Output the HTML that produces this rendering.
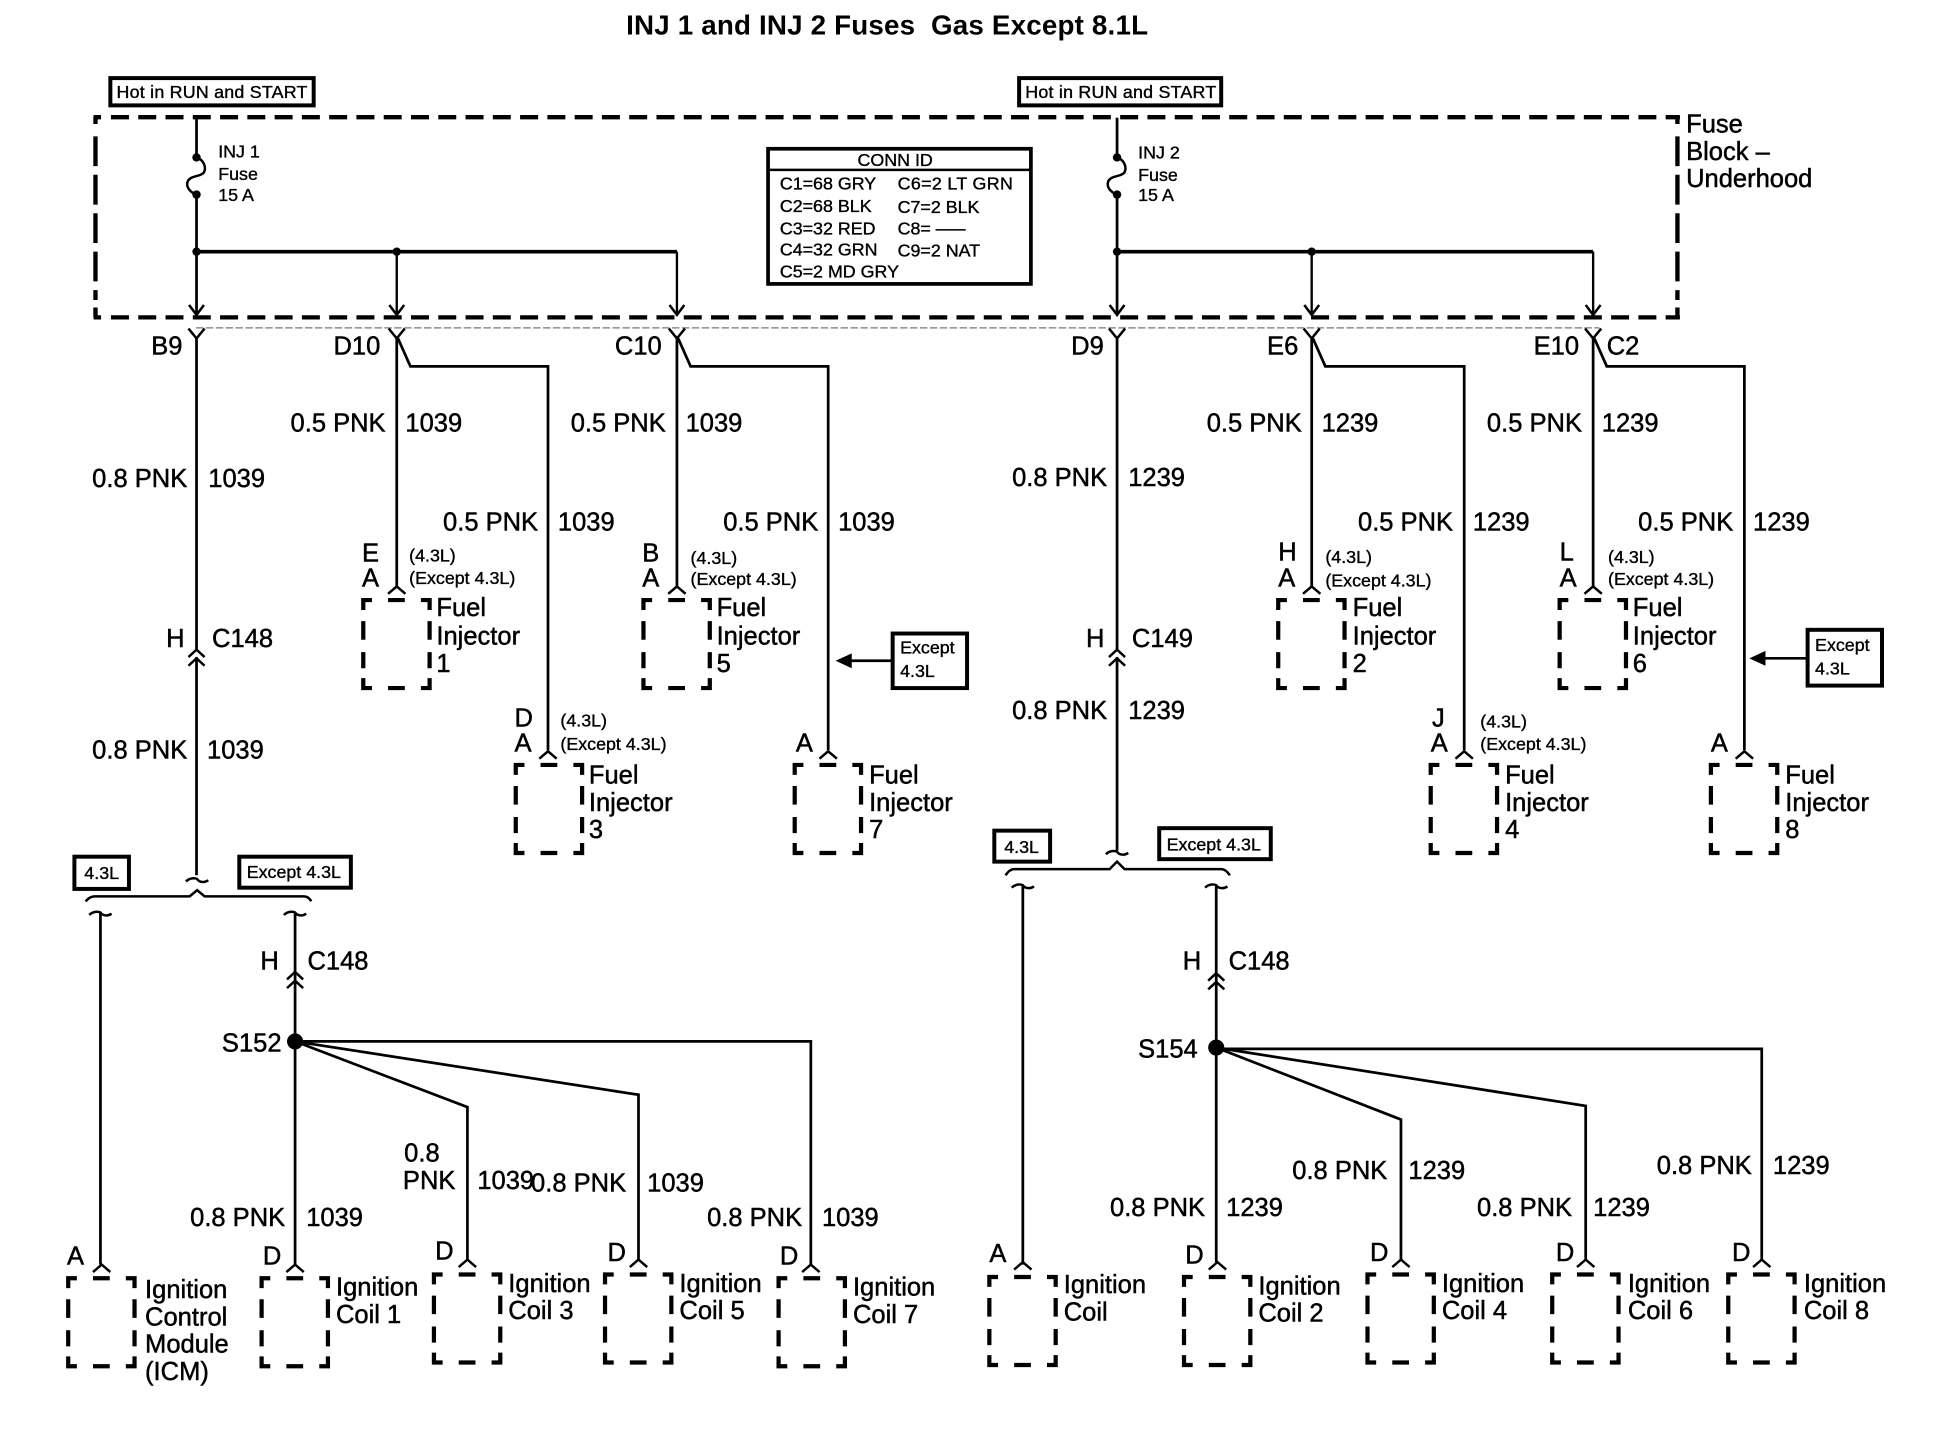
<!DOCTYPE html>
<html><head><meta charset="utf-8"><title>INJ 1 and INJ 2 Fuses</title>
<style>
html,body{margin:0;padding:0;background:#fff}
svg{display:block;width:1944px;height:1440px}
text{font-family:"Liberation Sans",Arial,sans-serif;fill:#000;stroke:#000;stroke-width:.38px;white-space:pre}
.m{font-size:20.6px}
.s{font-size:14.4px;stroke-width:.3px}
.e{text-anchor:end}
.t{font-size:22.4px;font-weight:bold;stroke-width:0}
.w{fill:none;stroke:#000;stroke-width:2.2}
.h{fill:none;stroke:#000;stroke-width:2}
.b{fill:#fff;stroke:#000;stroke-width:3.2}
</style></head><body>
<svg xmlns="http://www.w3.org/2000/svg" xmlns:xlink="http://www.w3.org/1999/xlink" viewBox="0 0 1568 1161.5" width="1944" height="1440">
<defs>
<path id="bx" d="M0,8V0H7M0,17V32M0,42V55M0,63V71H7M20,71H33.500M20,0H33.500M46.500,0H53.500V8M53.500,17V32M53.500,42V55M53.500,63V71H46.500" fill="none" stroke="#000" stroke-width="3.4"/>
<path id="dn" d="M-6,-8L0,0L6,-8" class="h"/>
<path id="y" d="M-6.5,0L0,8L6.5,0" class="h"/>
<path id="up" d="M-7,6L0,0L7,6" class="h"/>
<path id="ch" d="M-6.5,6L0,0L6.5,6M-6.5,13L0,7L6.5,13" class="h"/>
<path id="fu" d="M0,0C6,2 8,8 6,12C3,16 -4,14 -7,19C-9,24 -5,28 0,30" class="h"/>
<path id="ti" d="M-9,2C-6,-1 -2,-1 0,0C2,3 6,3 9,1" class="h"/>
</defs>
<text class="t" x="505" y="28" textLength="421" lengthAdjust="spacing" xml:space="preserve">INJ 1 and INJ 2 Fuses  Gas Except 8.1L</text>

<rect class="b" x="89" y="63" width="164" height="22"/><text class="s" x="94" y="79" textLength="154">Hot in RUN and START</text>
<rect class="b" x="822" y="63" width="163" height="22"/><text class="s" x="827" y="79" textLength="154">Hot in RUN and START</text>

<g fill="none" stroke="#000" stroke-width="3.5">
<path d="M75.500,94.500H1355" stroke-dasharray="6 8 14.500 7.500 14.500 7.500 14.500 7.500 14.500 7.500 14.500 7.500 14.500 7.500 14.500 7.500 14.500 7.500 14.500 7.500 14.500 7.500 14.500 7.500 14.500 7.500 14.500 7.500 14.500 7.500 14.500 7.500 14.500 7.500 14.500 7.500 14.500 7.500 14.500 7.500 14.500 7.500 14.500 7.500 14.500 7.500 14.500 7.500 14.500 7.500 14.500 7.500 14.500 7.500 14.500 7.500 14.500 7.500 14.500 7.500 14.500 7.500 14.500 7.500 14.500 7.500 14.500 7.500 14.500 7.500 14.500 7.500 14.500 7.500 14.500 7.500 14.500 7.500 14.500 7.500 14.500 7.500 14.500 7.500 14.500 7.500 14.500 7.500 14.500 7.500 14.500 7.500 14.500 7.500 14.500 7.500 14.500 7.500 14.500 7.500 14.500 7.500 14.500 7.500 14.500 7.500 14.500 7.500 14.500 7.500 14.500 7.500 14.500 7.500 14.500 7.500 14.500 7.500 14.500 7.500"/>
<path d="M75.500,256H1355" stroke-dasharray="6 8 14.500 7.500 14.500 7.500 14.500 7.500 14.500 7.500 14.500 7.500 14.500 7.500 14.500 7.500 14.500 7.500 14.500 7.500 14.500 7.500 14.500 7.500 14.500 7.500 14.500 7.500 14.500 7.500 14.500 7.500 14.500 7.500 14.500 7.500 14.500 7.500 14.500 7.500 14.500 7.500 14.500 7.500 14.500 7.500 14.500 7.500 14.500 7.500 14.500 7.500 14.500 7.500 14.500 7.500 14.500 7.500 14.500 7.500 14.500 7.500 14.500 7.500 14.500 7.500 14.500 7.500 14.500 7.500 14.500 7.500 14.500 7.500 14.500 7.500 14.500 7.500 14.500 7.500 14.500 7.500 14.500 7.500 14.500 7.500 14.500 7.500 14.500 7.500 14.500 7.500 14.500 7.500 14.500 7.500 14.500 7.500 14.500 7.500 14.500 7.500 14.500 7.500 14.500 7.500 14.500 7.500 14.500 7.500 14.500 7.500 14.500 7.500 14.500 7.500 14.500 7.500 14.500 7.500 14.500 7.500"/>
<path d="M77,94V256" stroke-dasharray="6 10 24 7 24 7 24 7 24 7 8"/>
<path d="M1353,94V256" stroke-dasharray="6 10 24 7 24 7 24 7 24 7 8"/>
</g>
<path d="M158,264.500H1290" fill="none" stroke="#777" stroke-width="1" stroke-dasharray="6 2"/>

<text class="m" x="1360" y="107">Fuse</text><text class="m" x="1360" y="129">Block –</text><text class="m" x="1360" y="151">Underhood</text>

<!-- Left fuse group -->
<path class="w" d="M158.500,95V126M158.500,157V254"/>
<path d="M320,203V254M546,203V254" fill="none" stroke="#000" stroke-width="1.9"/>
<path d="M158.500,203H546" fill="none" stroke="#000" stroke-width="3"/>
<use xlink:href="#fu" x="158.500" y="127"/>
<circle cx="158.500" cy="127" r="3.400"/><circle cx="158.500" cy="157" r="3.400"/><circle cx="158.500" cy="203" r="3.400"/><circle cx="320" cy="203" r="3.400"/>
<use xlink:href="#dn" x="158.500" y="254"/><use xlink:href="#dn" x="320" y="254"/><use xlink:href="#dn" x="546" y="254"/>
<text class="s" x="176" y="127">INJ 1</text><text class="s" x="176" y="145">Fuse</text><text class="s" x="176" y="162">15 A</text>

<!-- Right fuse group -->
<path class="w" d="M901,95V126M901,157V254"/>
<path d="M1058,203V254M1285,203V254" fill="none" stroke="#000" stroke-width="1.9"/>
<path d="M901,203H1285" fill="none" stroke="#000" stroke-width="3"/>
<use xlink:href="#fu" x="901" y="127"/>
<circle cx="901" cy="127" r="3.400"/><circle cx="901" cy="157" r="3.400"/><circle cx="901" cy="203" r="3.400"/><circle cx="1058" cy="203" r="3.400"/>
<use xlink:href="#dn" x="901" y="254"/><use xlink:href="#dn" x="1058" y="254"/><use xlink:href="#dn" x="1285" y="254"/>
<text class="s" x="918" y="128">INJ 2</text><text class="s" x="918" y="146">Fuse</text><text class="s" x="918" y="162">15 A</text>

<!-- CONN ID -->
<rect x="619.500" y="120" width="212" height="109" fill="#fff" stroke="#000" stroke-width="3"/>
<path d="M619,137H832" stroke="#000" stroke-width="2"/>
<text class="s" x="722" y="134" text-anchor="middle">CONN ID</text>
<text class="s" x="629" y="153">C1=68 GRY</text><text class="s" x="629" y="171">C2=68 BLK</text><text class="s" x="629" y="189">C3=32 RED</text><text class="s" x="629" y="206">C4=32 GRN</text><text class="s" x="629" y="224">C5=2 MD GRY</text>
<text class="s" x="724" y="153" textLength="93">C6=2 LT GRN</text><text class="s" x="724" y="172">C7=2 BLK</text><text class="s" x="724" y="189">C8= –––</text><text class="s" x="724" y="207">C9=2 NAT</text>

<!-- Y connectors -->
<use xlink:href="#y" x="158.500" y="265"/><use xlink:href="#y" x="320" y="265"/><use xlink:href="#y" x="546" y="265"/><use xlink:href="#y" x="901" y="265"/><use xlink:href="#y" x="1058" y="265"/><use xlink:href="#y" x="1285" y="265"/>
<text class="m" x="122" y="286">B9</text><text class="m" x="269" y="286">D10</text><text class="m" x="496" y="286">C10</text><text class="m" x="864" y="286">D9</text><text class="m" x="1022" y="286">E6</text><text class="m" x="1237" y="286">E10</text><text class="m" x="1296" y="286">C2</text>

<!-- Upper wires -->
<path class="w" d="M158.500,273V524M158.500,530V706M320,273V473M546,273V473M901,273V524M901,530V686M1058,273V473M1285,273V473"/>
<path class="w" d="M321,273L331,295.500H442V605M547,273L557,295.500H668V605M1059,273L1069,295.500H1181V605M1286,273L1296,295.500H1407V605"/>
<use xlink:href="#ch" x="158.500" y="524"/><use xlink:href="#ch" x="901" y="524"/>
<use xlink:href="#up" x="320" y="473"/><use xlink:href="#up" x="546" y="473"/><use xlink:href="#up" x="442" y="606"/><use xlink:href="#up" x="668" y="606"/><use xlink:href="#up" x="1058" y="473"/><use xlink:href="#up" x="1285" y="473"/><use xlink:href="#up" x="1181" y="606"/><use xlink:href="#up" x="1407" y="606"/>

<!-- upper wire labels -->
<text class="m e" x="151" y="393">0.8 PNK</text><text class="m" x="168" y="393">1039</text>
<text class="m e" x="311" y="348">0.5 PNK</text><text class="m" x="327" y="348">1039</text>
<text class="m e" x="537" y="348">0.5 PNK</text><text class="m" x="553" y="348">1039</text>
<text class="m e" x="434" y="428">0.5 PNK</text><text class="m" x="450" y="428">1039</text>
<text class="m e" x="660" y="428">0.5 PNK</text><text class="m" x="676" y="428">1039</text>
<text class="m e" x="151" y="612">0.8 PNK</text><text class="m" x="167" y="612">1039</text>
<text class="m e" x="893" y="392">0.8 PNK</text><text class="m" x="910" y="392">1239</text>
<text class="m e" x="893" y="580">0.8 PNK</text><text class="m" x="910" y="580">1239</text>
<text class="m e" x="1050" y="348">0.5 PNK</text><text class="m" x="1066" y="348">1239</text>
<text class="m e" x="1276" y="348">0.5 PNK</text><text class="m" x="1292" y="348">1239</text>
<text class="m e" x="1172" y="428">0.5 PNK</text><text class="m" x="1188" y="428">1239</text>
<text class="m e" x="1398" y="428">0.5 PNK</text><text class="m" x="1414" y="428">1239</text>

<text class="m" x="134" y="522">H</text><text class="m" x="171" y="522">C148</text>
<text class="m" x="876" y="522">H</text><text class="m" x="913" y="522">C149</text>

<!-- Injector boxes -->
<use xlink:href="#bx" x="293" y="484"/><use xlink:href="#bx" x="519" y="484"/><use xlink:href="#bx" x="416" y="617"/><use xlink:href="#bx" x="641" y="617"/>
<use xlink:href="#bx" x="1031" y="484"/><use xlink:href="#bx" x="1258" y="484"/><use xlink:href="#bx" x="1154" y="617"/><use xlink:href="#bx" x="1380" y="617"/>

<text class="m" x="292" y="453">E</text><text class="m" x="292" y="473">A</text><text class="s" x="330" y="453">(4.3L)</text><text class="s" x="330" y="471">(Except 4.3L)</text>
<text class="m" x="352" y="497">Fuel</text><text class="m" x="352" y="520">Injector</text><text class="m" x="352" y="542">1</text>
<text class="m" x="518" y="453">B</text><text class="m" x="518" y="473">A</text><text class="s" x="557" y="455">(4.3L)</text><text class="s" x="557" y="472">(Except 4.3L)</text>
<text class="m" x="578" y="497">Fuel</text><text class="m" x="578" y="520">Injector</text><text class="m" x="578" y="542">5</text>
<text class="m" x="415" y="586">D</text><text class="m" x="415" y="606">A</text><text class="s" x="452" y="586">(4.3L)</text><text class="s" x="452" y="605">(Except 4.3L)</text>
<text class="m" x="475" y="632">Fuel</text><text class="m" x="475" y="654">Injector</text><text class="m" x="475" y="676">3</text>
<text class="m" x="642" y="606">A</text>
<text class="m" x="701" y="632">Fuel</text><text class="m" x="701" y="654">Injector</text><text class="m" x="701" y="676">7</text>
<text class="m" x="1031" y="452">H</text><text class="m" x="1031" y="473">A</text><text class="s" x="1069" y="454">(4.3L)</text><text class="s" x="1069" y="473">(Except 4.3L)</text>
<text class="m" x="1091" y="497">Fuel</text><text class="m" x="1091" y="520">Injector</text><text class="m" x="1091" y="542">2</text>
<text class="m" x="1258" y="452">L</text><text class="m" x="1258" y="473">A</text><text class="s" x="1297" y="454">(4.3L)</text><text class="s" x="1297" y="472">(Except 4.3L)</text>
<text class="m" x="1317" y="497">Fuel</text><text class="m" x="1317" y="520">Injector</text><text class="m" x="1317" y="542">6</text>
<text class="m" x="1155" y="586">J</text><text class="m" x="1154" y="606">A</text><text class="s" x="1194" y="587">(4.3L)</text><text class="s" x="1194" y="605">(Except 4.3L)</text>
<text class="m" x="1214" y="632">Fuel</text><text class="m" x="1214" y="654">Injector</text><text class="m" x="1214" y="676">4</text>
<text class="m" x="1380" y="606">A</text>
<text class="m" x="1440" y="632">Fuel</text><text class="m" x="1440" y="654">Injector</text><text class="m" x="1440" y="676">8</text>

<!-- Except boxes -->
<rect class="b" x="720" y="511" width="60" height="44"/><text class="s" x="726" y="527">Except</text><text class="s" x="726" y="546">4.3L</text>
<path d="M720,533H684" stroke="#000" stroke-width="2.2"/><path d="M674,533L687,527V539Z"/>
<rect class="b" x="1458" y="508" width="60" height="45"/><text class="s" x="1464" y="525">Except</text><text class="s" x="1464" y="544">4.3L</text>
<path d="M1458,531H1421" stroke="#000" stroke-width="2.2"/><path d="M1411,531L1424,525V537Z"/>

<!-- Left lower bus -->
<rect class="b" x="60" y="691" width="44" height="26"/><text class="s" x="68" y="709">4.3L</text>
<rect class="b" x="193" y="691" width="90" height="25"/><text class="s" x="199" y="708">Except 4.3L</text>
<use xlink:href="#ti" x="159" y="709"/>
<path class="h" d="M69,727C71,725 73,723 76,723H153L159,718L165,723H245C248,723 250,725 251,727"/>
<use xlink:href="#ti" x="81" y="736"/><use xlink:href="#ti" x="238" y="736"/>
<path class="w" d="M81,736V1020M238,736V1020M238,840H654V1020M238,840L377,893V1016M238,840L515,883V1016"/>
<circle cx="238" cy="840" r="6.500"/>
<use xlink:href="#ch" x="238" y="784"/>
<text class="m" x="210" y="782">H</text><text class="m" x="248" y="782">C148</text>
<text class="m" x="179" y="848">S152</text>

<!-- Right lower bus -->
<rect class="b" x="802" y="670" width="45" height="25"/><text class="s" x="810" y="688">4.3L</text>
<rect class="b" x="935" y="668" width="90" height="25"/><text class="s" x="941" y="686">Except 4.3L</text>
<use xlink:href="#ti" x="901" y="687"/>
<path class="h" d="M811,706C813,703 815,701 818,701H895L901,695L907,701H985C988,701 990,703 992,706"/>
<use xlink:href="#ti" x="825" y="714"/><use xlink:href="#ti" x="981" y="714"/>
<path class="w" d="M825,714V1020M981,714V1018M981,846H1421V1016M981,845L1130,903V1016M981,845L1279,892V1016"/>
<circle cx="981" cy="845" r="6.500"/>
<use xlink:href="#ch" x="981" y="785"/>
<text class="m" x="954" y="782">H</text><text class="m" x="991" y="782">C148</text>
<text class="m" x="918" y="853">S154</text>

<!-- Bottom arrows -->
<use xlink:href="#up" x="82" y="1020"/><use xlink:href="#up" x="238" y="1020"/><use xlink:href="#up" x="377" y="1016"/><use xlink:href="#up" x="515" y="1016"/><use xlink:href="#up" x="654" y="1020"/>
<use xlink:href="#up" x="825" y="1018"/><use xlink:href="#up" x="982" y="1018"/><use xlink:href="#up" x="1130" y="1016"/><use xlink:href="#up" x="1279" y="1016"/><use xlink:href="#up" x="1421" y="1016"/>

<!-- Bottom boxes -->
<use xlink:href="#bx" x="55" y="1031"/><use xlink:href="#bx" x="211" y="1031"/><use xlink:href="#bx" x="350" y="1028"/><use xlink:href="#bx" x="488" y="1028"/><use xlink:href="#bx" x="628" y="1031"/>
<use xlink:href="#bx" x="798" y="1030"/><use xlink:href="#bx" x="955" y="1030"/><use xlink:href="#bx" x="1103" y="1028"/><use xlink:href="#bx" x="1252" y="1028"/><use xlink:href="#bx" x="1394" y="1028"/>

<!-- Bottom wire labels -->
<text class="m e" x="230" y="989">0.8 PNK</text><text class="m" x="247" y="989">1039</text>
<text class="m" x="326" y="937">0.8</text><text class="m" x="325" y="959">PNK</text><text class="m" x="385" y="959">1039</text>
<text class="m e" x="505" y="961">0.8 PNK</text><text class="m" x="522" y="961">1039</text>
<text class="m e" x="647" y="989">0.8 PNK</text><text class="m" x="663" y="989">1039</text>
<text class="m e" x="972" y="981">0.8 PNK</text><text class="m" x="989" y="981">1239</text>
<text class="m e" x="1119" y="951">0.8 PNK</text><text class="m" x="1136" y="951">1239</text>
<text class="m e" x="1268" y="981">0.8 PNK</text><text class="m" x="1285" y="981">1239</text>
<text class="m e" x="1413" y="947">0.8 PNK</text><text class="m" x="1430" y="947">1239</text>

<text class="m" x="54" y="1020">A</text><text class="m" x="212" y="1020">D</text><text class="m" x="351" y="1016">D</text><text class="m" x="490" y="1017">D</text><text class="m" x="629" y="1020">D</text>
<text class="m" x="798" y="1018">A</text><text class="m" x="956" y="1019">D</text><text class="m" x="1105" y="1017">D</text><text class="m" x="1255" y="1017">D</text><text class="m" x="1397" y="1017">D</text>

<text class="m" x="117" y="1047">Ignition</text><text class="m" x="117" y="1069">Control</text><text class="m" x="117" y="1091">Module</text><text class="m" x="117" y="1113">(ICM)</text>
<text class="m" x="271" y="1045">Ignition</text><text class="m" x="271" y="1067">Coil 1</text>
<text class="m" x="410" y="1042">Ignition</text><text class="m" x="410" y="1064">Coil 3</text>
<text class="m" x="548" y="1042">Ignition</text><text class="m" x="548" y="1064">Coil 5</text>
<text class="m" x="688" y="1045">Ignition</text><text class="m" x="688" y="1067">Coil 7</text>
<text class="m" x="858" y="1043">Ignition</text><text class="m" x="858" y="1065">Coil</text>
<text class="m" x="1015" y="1044">Ignition</text><text class="m" x="1015" y="1066">Coil 2</text>
<text class="m" x="1163" y="1042">Ignition</text><text class="m" x="1163" y="1064">Coil 4</text>
<text class="m" x="1313" y="1042">Ignition</text><text class="m" x="1313" y="1064">Coil 6</text>
<text class="m" x="1455" y="1042">Ignition</text><text class="m" x="1455" y="1064">Coil 8</text>
</svg>
</body></html>
